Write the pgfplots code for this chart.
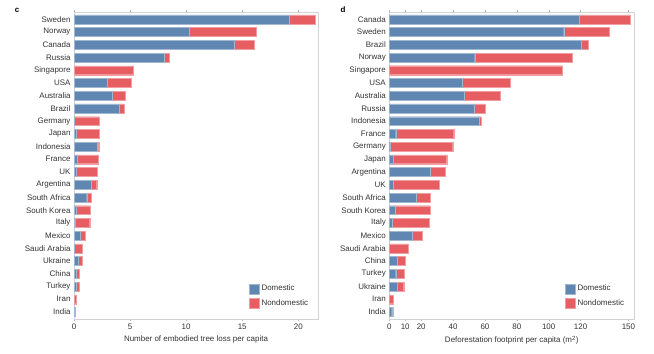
\documentclass[border=0pt]{standalone}
\usepackage{pgfplots}
\pgfplotsset{compat=1.18}
\usepackage{pgfplotstable}
\usepackage{fontspec}
\setmainfont{Liberation Sans}
\definecolor{dom}{HTML}{5F87B1}
\definecolor{ndom}{HTML}{E65E62}
\definecolor{txt}{HTML}{333333}

\pgfplotstableread{
idx dom nd
0 19.19 2.29
1 10.28 5.94
2 14.29 1.75
3 8.08 0.42
4 0 5.29
5 2.97 2.11
6 3.42 1.16
7 4.07 0.39
8 0.05 2.18
9 0.18 2.05
10 2.05 0.15
11 0.30 1.84
12 0.18 1.87
13 1.57 0.45
14 1.13 0.44
15 0.18 1.27
16 0.12 1.28
17 0.53 0.45
18 0.02 0.69
19 0.36 0.35
20 0.21 0.29
21 0.18 0.32
22 0 0.18
23 0.03 0.06
}\lefttab

\pgfplotstableread{
idx dom nd
0 119.2 31.8
1 109.4 28.5
2 120.2 4.8
3 53.6 61.4
4 0 108.6
5 45.6 30.3
6 46.9 22.5
7 53.3 6.7
8 56.3 1.4
9 4.0 36.4
10 0.5 39.3
11 2.5 33.5
12 25.6 9.6
13 2.5 29.0
14 16.7 8.9
15 3.6 21.8
16 1.9 23.1
17 14.6 6.3
18 0 11.7
19 4.8 5.0
20 4.0 5.2
21 5.2 3.8
22 0 2.5
23 1.5 0.6
}\righttab

\pgfplotsset{
  panel/.style={
    scale only axis,
    anchor=south west,
    height=306.7bp,
    xbar stacked,
    bar width=0.7,
    y dir=reverse,
    ymin=-0.55, ymax=23.55,
    ytick={0,...,23},
    ytick style={draw=none},
    xtick align=outside,
    major tick length=2bp,
    xtick style={gray!60},
    axis line style={gray!35},
    tick label style={font=\fontsize{8}{9}\selectfont, text=txt},
    label style={font=\fontsize{8}{9}\selectfont, text=txt},
    /pgf/number format/assume math mode=true,
    xticklabel style={yshift=1bp},
    legend style={draw=none, fill=none, font=\fontsize{8}{9}\selectfont, text=txt,
      row sep=3.5bp, cells={anchor=west}},
    legend image code/.code={\fill[##1] (0bp,-5bp) rectangle (10bp,5bp);},
    legend cell align=left,
  },
}

\begin{document}
\begin{tikzpicture}
\useasboundingbox (0,0) rectangle (654bp,354bp);

\begin{axis}[panel,
  at={(74bp,35bp)},
  width=244bp,
  xmin=0, xmax=21.76,
  xtick={0,5,10,15,20},
  yticklabels={Sweden,Norway,Canada,Russia,Singapore,USA,Australia,Brazil,Germany,Japan,Indonesia,France,UK,Argentina,South Africa,South Korea,Italy,Mexico,Saudi Arabia,Ukraine,China,Turkey,Iran,India},
  xlabel={Number of embodied tree loss per capita},
  legend style={at={(0.705,0.025)}, anchor=south west},
]
\addplot[fill=dom, draw=dom!60!white, line width=0.3pt] table[x=dom,y=idx]{\lefttab};
\addplot[fill=ndom, draw=ndom!60!white, line width=0.3pt] table[x=nd,y=idx]{\lefttab};
\legend{Domestic,Nondomestic}
\end{axis}

\begin{axis}[panel,
  at={(389.3bp,35bp)},
  width=245bp,
  xmin=0, xmax=153.7,
  xtick={0,10,20,40,60,80,100,120,150},
  yticklabels={Canada,Sweden,Brazil,Norway,Singapore,USA,Australia,Russia,Indonesia,France,Germany,Japan,Argentina,UK,South Africa,South Korea,Italy,Mexico,Saudi Arabia,China,Turkey,Ukraine,Iran,India},
  xlabel={Deforestation footprint per capita (m\textsuperscript{2})},
  legend style={at={(0.705,0.025)}, anchor=south west},
]
\addplot[fill=dom, draw=dom!60!white, line width=0.3pt] table[x=dom,y=idx]{\righttab};
\addplot[fill=ndom, draw=ndom!60!white, line width=0.3pt] table[x=nd,y=idx]{\righttab};
\legend{Domestic,Nondomestic}
\end{axis}

\node[font=\bfseries\fontsize{8}{9}\selectfont] at (17bp,344bp) {c};
\node[font=\bfseries\fontsize{8}{9}\selectfont] at (343bp,344bp) {d};
\end{tikzpicture}
\end{document}
